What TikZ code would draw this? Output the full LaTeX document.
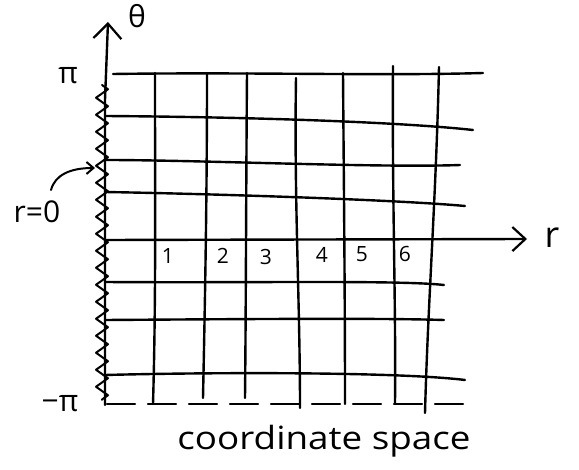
\documentclass[tikz,border=0pt]{standalone}
\usepackage{fontspec}
\setmainfont{Open Sans}
\usetikzlibrary{arrows.meta,decorations.pathmorphing}
\begin{document}
\begin{tikzpicture}[x=1pt,y=-1pt,
  ink/.style={line width=2.4pt,line cap=round,line join=round},
  lbl/.style={inner sep=0pt,font=\fontsize{21}{21}\selectfont},
  big/.style={inner sep=0pt,font=\fontsize{30}{30}\selectfont}]
\useasboundingbox (0,0) rectangle (579,470);
% axes coordinates
\coordinate (tb) at (105,405);
\coordinate (tt) at (108,22);
\coordinate (r0) at (105,240);
\coordinate (rt) at (527,239);
% theta axis
\draw[ink,-{Straight Barb[length=15pt,width=28pt,line width=2.2pt]}] (tb) -- (105,100) -- (tt);
% zigzag along r=0
\draw[ink,line width=2pt,decorate,decoration={zigzag,segment length=17pt,amplitude=6pt}] (102,85) -- (102,400);
% r axis
\draw[ink,-{Straight Barb[length=13pt,width=24pt,line width=2.2pt]}] (r0) -- (rt);
% horizontal lines
\draw[ink] (113,74) .. controls (250,72) and (380,76) .. (483,73);
\draw[ink] (105,116) .. controls (250,117) and (400,122) .. (473,130);
\draw[ink] (105,160) .. controls (200,160) and (380,168) .. (460,165);
\draw[ink] (105,192) .. controls (220,194) and (400,200) .. (465,206);
\draw[ink] (105,282) .. controls (250,283) and (400,280) .. (444,285);
\draw[ink] (105,320) .. controls (250,319) and (380,318) .. (444,320);
\draw[ink] (105,375) .. controls (220,372) and (400,372) .. (465,380);
\draw[ink,dash pattern=on 28pt off 13pt] (107,404) -- (468,404);
% vertical lines
\draw[ink] (155,73) .. controls (155,200) and (156,300) .. (153,404);
\draw[ink] (207,73) .. controls (207,200) and (205,300) .. (203,398);
\draw[ink] (247,73) .. controls (246,200) and (246,300) .. (245,398);
\draw[ink] (296,78) .. controls (294,200) and (300,300) .. (300,408);
\draw[ink] (343,73) .. controls (344,200) and (345,300) .. (345,404);
\draw[ink] (393,66) .. controls (392,200) and (396,300) .. (395,403);
\draw[ink] (439,67) .. controls (436,200) and (428,300) .. (425,413);
% r=0 pointer
\coordinate (p0) at (51,190);
\coordinate (p1) at (95,168);
\draw[ink,line width=2pt,-{Straight Barb[length=7pt,width=12pt,line width=2pt]}] (p0) .. controls (55,175) and (70,168) .. (p1);
% labels
\node[big] (theta) at (137,16) {θ};
\node[big] (pi) at (68,76) {π};
\node[big] (mpi) at (60,404) {−π};
\node[big] (rz) at (37,212) {r=0};
\node[big,font=\fontsize{36}{36}\selectfont] (rl) at (552,238) {r};
\node[lbl] (n1) at (168,256) {1};
\node[lbl] (n2) at (223,256) {2};
\node[lbl] (n3) at (266,257) {3};
\node[lbl] (n4) at (322,255) {4};
\node[lbl] (n5) at (362,254) {5};
\node[lbl] (n6) at (405,254) {6};
\node[big,font=\fontsize{32}{32}\selectfont,xscale=1.15] (cs) at (324,441) {coordinate space};
\end{tikzpicture}
\end{document}
